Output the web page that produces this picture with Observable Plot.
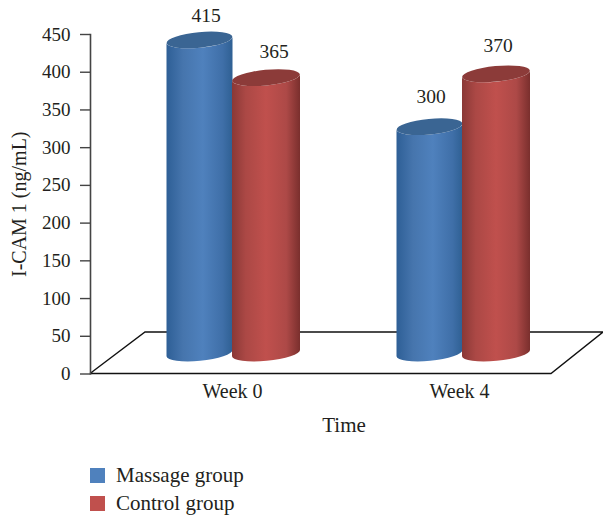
<!DOCTYPE html>
<html>
<head>
<meta charset="utf-8">
<script src="https://cdn.jsdelivr.net/npm/d3@7"></script>
<script src="https://cdn.jsdelivr.net/npm/@observablehq/plot@0.6"></script>
<style>
  html, body { margin: 0; padding: 0; background: #fff; }
  #chart svg { display: block; }
  #legend { margin: 21px 0 0 90px; font: 21px "Liberation Serif", serif; color: #231f20; }
  .row { display: flex; align-items: center; height: 28px; }
  .swatch { width: 15px; height: 15px; margin-right: 11px; }
</style>
</head>
<body>
<div id="chart"></div>
<div id="legend"></div>
<script>
// I-CAM 1 concentration per group at each time point
const weeks = ["Week 0", "Week 4"];
const massageGroup = [415, 300];
const controlGroup = [365, 370];
const groupNames = ["Massage group", "Control group"];
const yTicks = [0, 50, 100, 150, 200, 250, 300, 350, 400, 450];
const floorDepth = 55;

const ink = "#231f20";
const font = '"Liberation Serif", serif';
const massageRows = weeks.map((week, i) => ({week, value: massageGroup[i]}));
const controlRows = weeks.map((week, i) => ({week, value: controlGroup[i]}));

const tilt = -5.5;
const ry = 7.8;

// Turns each bar into a tilted cylinder: a shaded body and a darker elliptical cap.
function cylinder(gradientId, stops, capColor) {
  return (index, scales, values, dimensions, context, next) => {
    const g = next(index, scales, values, dimensions, context);
    const sel = d3.select(g);
    const grad = sel.append("defs").append("linearGradient").attr("id", gradientId);
    stops.forEach(([offset, color]) =>
      grad.append("stop").attr("offset", offset).attr("stop-color", color));
    sel.selectAll("rect").each(function () {
      const r = d3.select(this);
      const x = +r.attr("x"), w = +r.attr("width");
      const top = +r.attr("y"), bottom = top + +r.attr("height");
      const rx = w / 2, cx = x + rx;
      const lift = rx * Math.sin(-tilt * Math.PI / 180);
      const arc = `A${rx},${ry} ${tilt} 0`;
      const parent = d3.select(this.parentNode);
      parent.append("path")
        .attr("fill", `url(#${gradientId})`)
        .attr("d", `M${x},${top + lift}L${x},${bottom + lift}${arc} 0 ${x + w},${bottom - lift}L${x + w},${top - lift}${arc} 1 ${x},${top + lift}Z`);
      parent.append("ellipse")
        .attr("cx", cx).attr("cy", top).attr("rx", rx).attr("ry", ry)
        .attr("transform", `rotate(${tilt} ${cx} ${top})`)
        .attr("fill", capColor);
      r.remove();
    });
    return g;
  };
}

// Perspective floor joining the front edge of the axis to the back wall.
function floor(index, {y}, values, {width, marginLeft, marginRight}) {
  const front = y(0), back = y(floorDepth);
  const l = marginLeft, r = width - marginRight;
  const p = d3.path();
  p.moveTo(l, front); p.lineTo(l + floorDepth, back); p.lineTo(width, back); p.lineTo(r, front); p.lineTo(l, front);
  return d3.create("svg:path").attr("d", p.toString()).attr("fill", "none")
    .attr("stroke", "#111").attr("stroke-width", 1.4).node();
}

// One value label per bar, lifted above the cap and nudged clear of its neighbour.
const valueLabel = (row, dx, dy) =>
  Plot.text([row], {x: "week", y: "value", text: "value", dx, dy, fontSize: 19.5, fill: ink});

const chart = Plot.plot({
  width: 603,
  height: 440,
  marginLeft: 90,
  marginRight: 52,
  marginTop: 34,
  marginBottom: 66.5,
  style: {background: "#fff", fontFamily: font, color: ink},
  x: {type: "band", domain: weeks, range: [117, 577], padding: 0, round: false, axis: null},
  y: {domain: [0, 450], axis: null},
  marks: [
    floor,
    Plot.frame({anchor: "left", stroke: "#444", strokeWidth: 1.6}),
    Plot.axisY({ticks: yTicks, tickSize: 10, tickPadding: 10, label: null, fontSize: 19, stroke: "#444", strokeWidth: 1.4, fill: ink, tickFormat: d => d}),
    Plot.axisX({ticks: [weeks[0]], anchor: "bottom", tickSize: 0, tickPadding: 10, label: null, fontSize: 20, fill: ink}),
    Plot.axisX({ticks: [weeks[1]], anchor: "bottom", dx: -3, tickSize: 0, tickPadding: 10, label: null, fontSize: 20, fill: ink}),
    Plot.barY(massageRows, {
      x: "week", y: "value", dx: -32.5, dy: -20.5, insetLeft: 82, insetRight: 82,
      render: cylinder("massageBody", [[0, "#2e5f96"], [0.25, "#4675ad"], [0.55, "#4f81bd"], [0.85, "#3f6fa8"], [1, "#2f6093"]], "#3a6593")
    }),
    Plot.barY(controlRows, {
      x: "week", y: "value", dx: 34, dy: -20.5, insetLeft: 81, insetRight: 81,
      render: cylinder("controlBody", [[0, "#8a3836"], [0.2, "#ab4845"], [0.5, "#c0504d"], [0.8, "#ad4947"], [1, "#7a2f2d"]], "#8c3b39")
    }),
    valueLabel(massageRows[0], -26.5, -45),
    valueLabel(massageRows[1], -31.5, -51),
    valueLabel(controlRows[0], 41.5, -47),
    valueLabel(controlRows[1], 35.5, -49),
    Plot.text(["Time"], {frameAnchor: "bottom", dx: 23, dy: 58, fontSize: 21, fill: ink}),
    Plot.text(["I-CAM 1 (ng/mL)"], {frameAnchor: "left", textAnchor: "middle", rotate: -90, dx: -71, fontSize: 20, fill: ink})
  ]
});
document.getElementById("chart").append(chart);

// Legend below the plot
const legendColors = ["#4f81bd", "#c0504d"];
const legend = d3.select("#legend");
groupNames.forEach((name, i) => {
  const row = legend.append("div").attr("class", "row");
  row.append("div").attr("class", "swatch").style("background", legendColors[i]);
  row.append("div").text(name);
});
</script>
</body>
</html>
